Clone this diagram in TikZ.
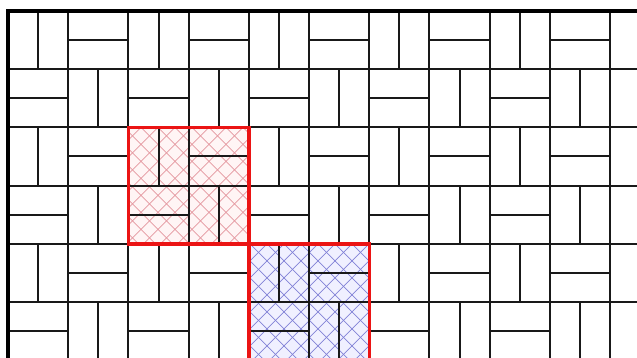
\documentclass[tikz,border=0pt]{standalone}
\definecolor{redfill}{RGB}{255,245,245}
\definecolor{bluefill}{RGB}{240,240,255}
\definecolor{redhatch}{RGB}{228,150,158}
\definecolor{bluehatch}{RGB}{130,130,215}
\definecolor{boxred}{RGB}{235,20,20}
\begin{document}
\begin{tikzpicture}[x=1pt,y=-1pt,
  gridline/.style={line width=2pt,black!90},
  border/.style={line width=3.8pt,black},
  hatchred/.style={line width=0.6pt,redhatch},
  hatchblue/.style={line width=0.7pt,bluehatch},
  boxframe/.style={line width=3.4pt,boxred}]
\useasboundingbox (0,0) rectangle (637,358);
\clip (0,0) rectangle (637,358);
\def\W{60.2}
\def\H{58.2}
% fills
\fill[redfill] (128.4,127.4) rectangle (248.8,243.8);
\fill[bluefill] (248.8,243.8) rectangle (369.2,360);
% hatching
\begin{scope}
  \clip (128.4,127.4) rectangle (248.8,243.8);
  \foreach \k in {-10,...,18} {
    \draw[hatchred] (124+\k*17,127.4) -- ++(130,130);
    \draw[hatchred] (124+\k*17,127.4) -- ++(-130,130);
  }
\end{scope}
\begin{scope}
  \clip (248.8,243.8) rectangle (369.2,360);
  \foreach \k in {-10,...,18} {
    \draw[hatchblue] (250+\k*17,243.8) -- ++(130,130);
    \draw[hatchblue] (250+\k*17,243.8) -- ++(-130,130);
  }
\end{scope}
% cell grid
\foreach \i in {0,...,10} \draw[gridline] (8+\i*\W,11) -- (8+\i*\W,360);
\foreach \j in {0,...,6} \draw[gridline] (8,11+\j*\H) -- (637,11+\j*\H);
% inner brick joints
\foreach \i in {0,...,9} {
  \foreach \j in {0,...,5} {
    \pgfmathtruncatemacro\p{mod(\i+\j,2)}
    \ifnum\p=0
      \draw[gridline] (8+\i*\W+\W/2,11+\j*\H) -- ++(0,\H);
    \else
      \draw[gridline] (8+\i*\W,11+\j*\H+\H/2) -- ++(\W,0);
    \fi
  }
}
% outer borders
\draw[border] (8,11) -- (637,11);
\draw[border] (8,9.1) -- (8,360);
% red frames
\draw[boxframe] (128.4,127.4) rectangle (248.8,243.8);
\draw[boxframe] (248.8,243.8) rectangle (369.2,360);
\end{tikzpicture}
\end{document}
